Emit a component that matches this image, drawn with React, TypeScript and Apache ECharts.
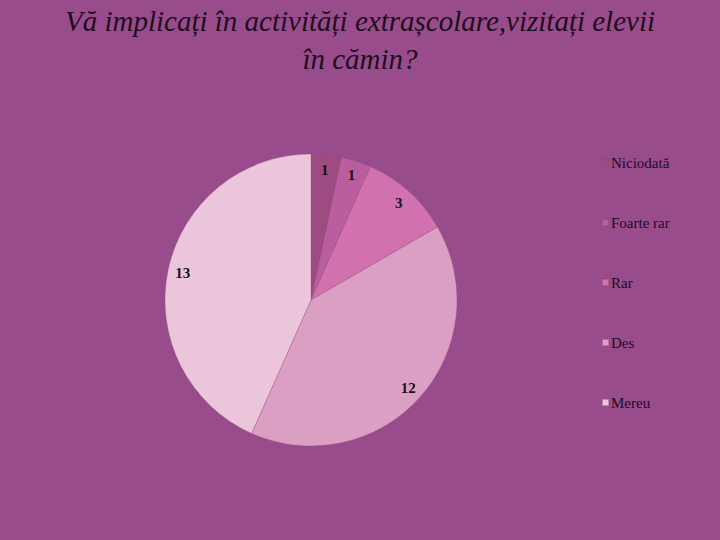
import React, { useEffect, useRef } from "react";
import * as echarts from "echarts";

const categories = ["Niciodată", "Foarte rar", "Rar", "Des", "Mereu"];
const values = [1, 1, 3, 12, 13];
const colors = ["#9e4b82", "#b95f9e", "#d171ad", "#db9fc3", "#ebc6da"];
const titleText = "Vă implicați în activități extrașcolare,vizitați elevii\nîn cămin?";

export default function App() {
  const ref = useRef<HTMLDivElement>(null);
  useEffect(() => {
    const chart = echarts.init(ref.current!, null, { renderer: "svg" });
    const data = categories.map((name, i) => ({
      name,
      value: values[i],
      itemStyle: { color: colors[i] },
    }));
    chart.setOption({
      animation: false,
      backgroundColor: "#994c8c",
      title: {
        text: titleText,
        left: "center",
        top: -3,
        textStyle: {
          fontFamily: "Liberation Serif",
          fontStyle: "italic",
          fontWeight: "normal",
          fontSize: 29,
          lineHeight: 38,
          color: "#1d0c1c",
        },
      },
      legend: {
        orient: "vertical",
        left: 596,
        top: 150,
        itemWidth: 7,
        itemHeight: 7,
        itemGap: 45,
        icon: "rect",
        data: categories,
        textStyle: {
          fontFamily: "Liberation Serif",
          fontSize: 15,
          color: "#1d0c1c",
          padding: [0, 0, 0, -3],
        },
      },
      series: [
        {
          type: "pie",
          center: [311, 300],
          radius: [0, 146],
          startAngle: 90,
          clockwise: true,
          data,
          label: { show: false },
          labelLine: { show: false },
          itemStyle: { borderColor: "rgba(150,70,120,0.5)", borderWidth: 0.6 },
          silent: true,
        },
        {
          type: "pie",
          center: [311, 300],
          radius: [110, 146],
          startAngle: 90,
          clockwise: true,
          data: categories.map((name, i) => ({
            name,
            value: values[i],
            itemStyle: { color: "rgba(0,0,0,0)" },
          })),
          label: {
            show: true,
            position: "inside",
            formatter: "{c}",
            fontFamily: "Liberation Serif",
            fontSize: 15,
            fontWeight: "bold",
            color: "#1d0c1c",
          },
          labelLine: { show: false },
          silent: true,
        },
      ],
    });
    return () => chart.dispose();
  }, []);
  return <div ref={ref} style={{ width: 720, height: 540, position: "absolute", left: 0, top: 0 }} />;
}
